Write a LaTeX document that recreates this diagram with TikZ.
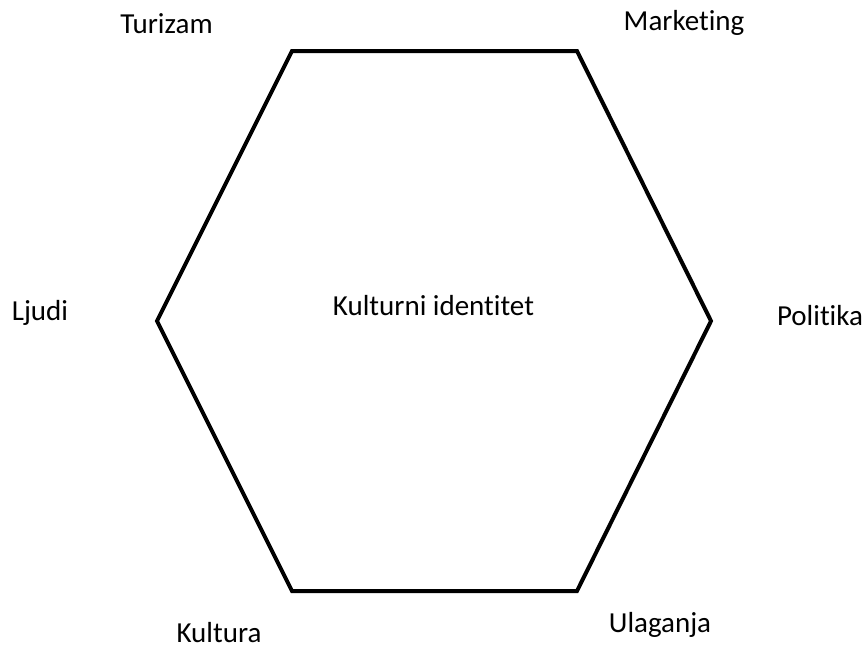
\documentclass[tikz,border=0pt]{standalone}
\usepackage{fontspec}
\setmainfont[Ligatures=NoCommon]{Carlito}
\begin{document}
\begin{tikzpicture}[x=1pt,y=-1pt,
  lbl/.style={anchor=base,inner sep=0pt,font=\fontsize{29}{34}\selectfont},
  hexline/.style={draw=black,line width=4pt,line join=miter}]
\useasboundingbox (0,0) rectangle (868,648);
\coordinate (v1) at (292,51);
\coordinate (v2) at (577,51);
\coordinate (v3) at (711,321);
\coordinate (v4) at (577,591);
\coordinate (v5) at (292,591);
\coordinate (v6) at (157,321);
\draw[hexline] (v1) -- (v2) -- (v3) -- (v4) -- (v5) -- (v6) -- cycle;
\node[lbl] (center) at (433.5,315) {Kulturni identitet};
\node[lbl] (tur) at (166.5,33) {Turizam};
\node[lbl] (mar) at (684,30.5) {Marketing};
\node[lbl] (lju) at (40,320) {Ljudi};
\node[lbl] (pol) at (820,325.5) {Politika};
\node[lbl] (kul) at (219,642) {Kultura};
\node[lbl] (ula) at (660,632) {Ulaganja};
\end{tikzpicture}
\end{document}
